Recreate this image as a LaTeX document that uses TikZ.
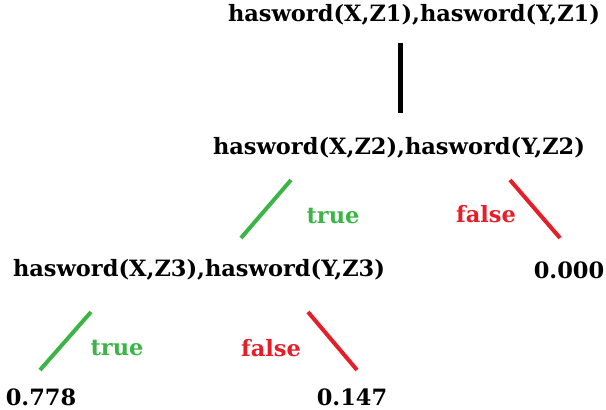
\documentclass[tikz,border=0pt]{standalone}
\usepackage{fontspec}
\setmainfont{DejaVu Serif}
\begin{document}
\begin{tikzpicture}[x=1pt,y=-1pt,
  lbl/.style={font=\bfseries\fontsize{22.5}{24}\selectfont,inner sep=0pt},
  tl/.style={lbl,text={rgb,255:red,60;green,180;blue,70}},
  fl/.style={lbl,text={rgb,255:red,230;green,30;blue,40}},
  tline/.style={line width=4pt,draw={rgb,255:red,60;green,180;blue,70}},
  fline/.style={line width=4pt,draw={rgb,255:red,230;green,30;blue,40}}]
\useasboundingbox (0,0) rectangle (606,410);
\node[lbl] (n1) at (414,15) {hasword(X,Z1),hasword(Y,Z1)};
\node[lbl] (n2) at (399,148) {hasword(X,Z2),hasword(Y,Z2)};
\node[lbl] (n3) at (199,270) {hasword(X,Z3),hasword(Y,Z3)};
\node[lbl] (v0) at (569,270) {0.000};
\node[lbl] (v1) at (41,397) {0.778};
\node[lbl] (v2) at (352,397) {0.147};
\coordinate (a1) at (400,43); \coordinate (a2) at (400,113);
\draw[line width=5pt] (a1) -- (a2);
\coordinate (g1) at (291,180); \coordinate (g2) at (241,238);
\coordinate (r1) at (510,180); \coordinate (r2) at (560,238);
\coordinate (g3) at (91,312); \coordinate (g4) at (40,370);
\coordinate (r3) at (308,312); \coordinate (r4) at (357,370);
\draw[tline] (g1) -- (g2);
\draw[fline] (r1) -- (r2);
\draw[tline] (g3) -- (g4);
\draw[fline] (r3) -- (r4);
\node[tl] (t1) at (333,216) {true};
\node[fl] (f1) at (486,214) {false};
\node[tl] (t2) at (117,348) {true};
\node[fl] (f2) at (271,348) {false};
\end{tikzpicture}
\end{document}
